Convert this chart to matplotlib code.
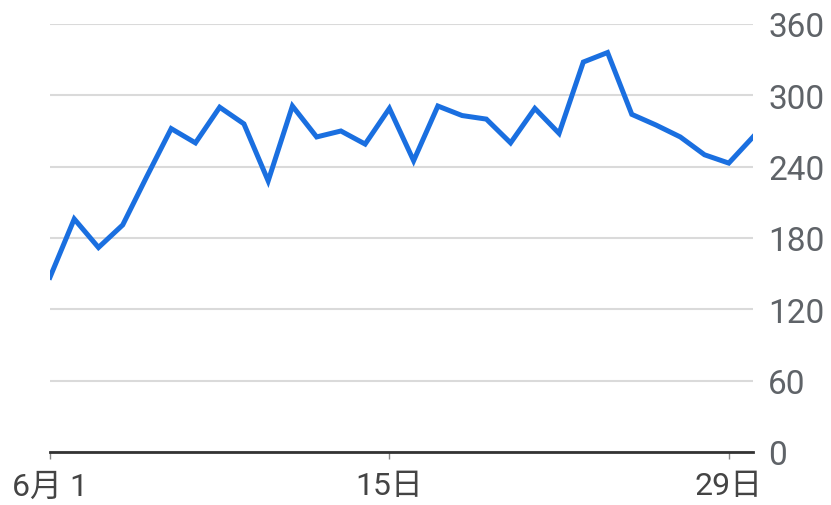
import matplotlib
matplotlib.use("Agg")
import matplotlib.pyplot as plt

plt.rcParams['font.family'] = ['Roboto', 'Noto Sans CJK JP', 'DejaVu Sans']

days = list(range(1, 31))
values = [147, 196, 172, 191, 232, 272, 260, 290, 276, 228,
          291, 265, 270, 259, 289, 245, 291, 283, 280, 260,
          289, 268, 328, 336, 284, 275, 265, 250, 243, 265]
tick_days = [1, 15, 29]
tick_labels = ['6月 1', '15日', '29日']
y_ticks = [0, 60, 120, 180, 240, 300, 360]

fig = plt.figure(figsize=(8.31, 5.06), dpi=100)
ax = fig.add_axes([50 / 831, 53 / 506, 703 / 831, 428 / 506])

ax.plot(days, values, color='#1a6fe0', lw=3.6, solid_joinstyle='miter', zorder=3)

ax.set_xlim(1, 30)
ax.set_ylim(0, 360)
ax.set_yticks(y_ticks)
ax.set_xticks(tick_days)
ax.set_xticklabels(tick_labels)

ax.yaxis.tick_right()
ax.grid(axis='y', color='#dadada', lw=1.5)
ax.set_axisbelow(True)
for s in ['top', 'left', 'right']:
    ax.spines[s].set_visible(False)
ax.spines['bottom'].set_color('#333333')
ax.spines['bottom'].set_linewidth(2)
ax.spines['bottom'].set_zorder(4)

ax.tick_params(axis='y', length=0, pad=11, labelsize=24, labelcolor='#5f6368')
ax.tick_params(axis='x', length=5, width=1, color='#888888', pad=9,
               labelsize=23, labelcolor='#444444')
for lab in ax.get_yticklabels():
    lab.set_horizontalalignment('left')

fig.savefig('out.png', dpi=100)
